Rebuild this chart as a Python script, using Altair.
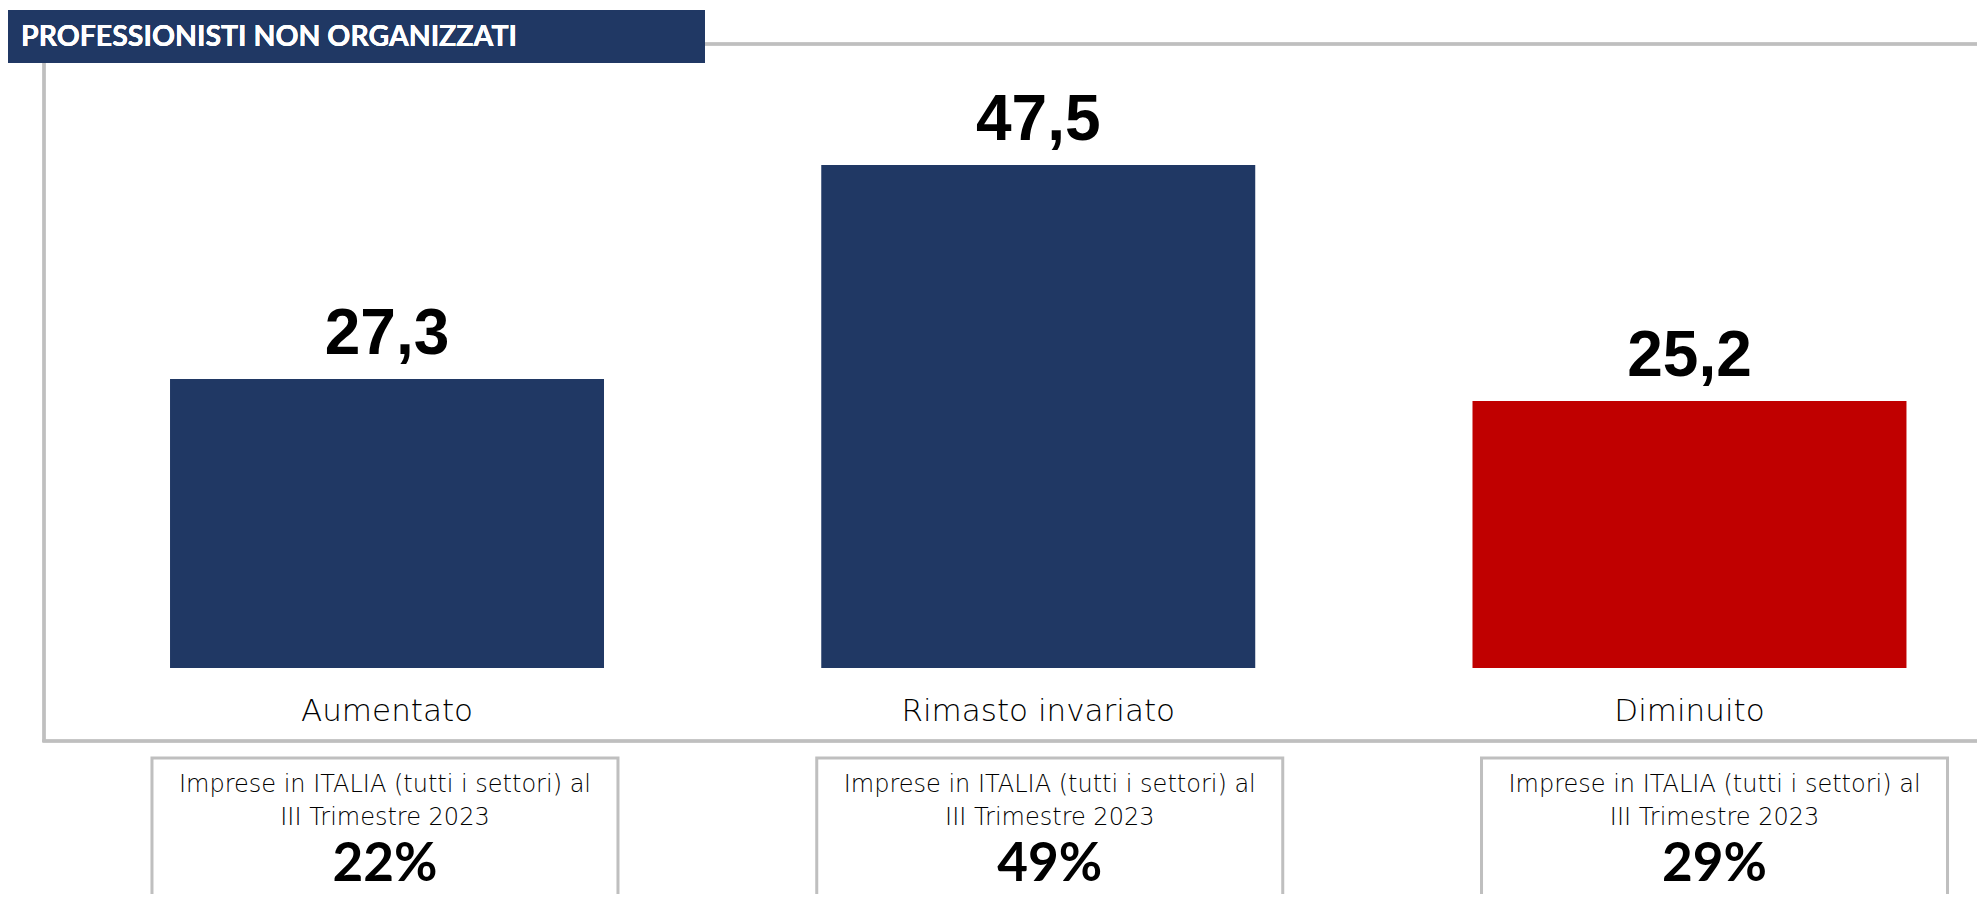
import altair as alt
import pandas as pd

# ---- data ----
categories = ["Aumentato", "Rimasto invariato", "Diminuito"]
values = [27.3, 47.5, 25.2]
value_labels = ["27,3", "47,5", "25,2"]
bar_colors = ["#203864", "#203864", "#C00000"]
italy_pct = ["22%", "49%", "29%"]
box_line1 = ["Imprese in ITALIA (tutti i settori) al"] * 3
box_line2 = ["III Trimestre 2023"] * 3
title_text = "PROFESSIONISTI NON ORGANIZZATI"

df = pd.DataFrame({
    "cat": categories,
    "val": values,
    "lab": value_labels,
    "pct": italy_pct,
    "l1": box_line1,
    "l2": box_line2,
})

W, H = 1969, 886
NAVY = "#203864"
GRAY = "#BFBFBF"
LIGHT_FONT = "DejaVu Sans"

bar_x = alt.X("cat:N", sort=categories, axis=None,
              scale=alt.Scale(domain=categories, range=[53.4, 2007.1],
                              paddingInner=0.3336, paddingOuter=0.1668))
box_x = alt.X("cat:N", sort=categories, axis=None,
              scale=alt.Scale(domain=categories, range=[44.6, 2038.9],
                              paddingInner=0.299, paddingOuter=0.1495))
y_enc = alt.Y("val:Q", axis=None,
              scale=alt.Scale(domain=[0, 62.32], range=[660, 0], nice=False, zero=True))

base = alt.Chart(df)

# decorative frame lines
top_line = base.mark_rule(color=GRAY, strokeWidth=3).encode(
    x=alt.value(697), x2=alt.value(W), y=alt.value(36))
left_line = base.mark_rule(color=GRAY, strokeWidth=3).encode(
    x=alt.value(36), y=alt.value(55), y2=alt.value(734))
bottom_line = base.mark_rule(color=GRAY, strokeWidth=3).encode(
    x=alt.value(34.5), x2=alt.value(W), y=alt.value(733))

title_box = base.mark_rect(color=NAVY).encode(
    x=alt.value(0), x2=alt.value(697), y=alt.value(2), y2=alt.value(55))
title = base.mark_text(align="left", baseline="middle", color="white",
                       font="Lato", fontWeight="bold", fontSize=28.5).encode(
    x=alt.value(13), y=alt.value(29), text=alt.value(title_text))

bars = base.mark_bar().encode(
    x=bar_x, y=y_enc,
    color=alt.Color("cat:N", legend=None,
                    scale=alt.Scale(domain=categories, range=bar_colors)))

val_text = base.mark_text(baseline="alphabetic", dy=-25, font="Liberation Sans",
                          fontWeight="bold", fontSize=64, color="black").encode(
    x=bar_x, y=y_enc, text="lab:N")

cat_text = base.mark_text(baseline="middle", font=LIGHT_FONT, fontWeight=200,
                          fontSize=31, color="black").encode(
    x=bar_x, y=alt.value(704), text="cat:N")

boxes = base.mark_rect(fill="white", stroke=GRAY, strokeWidth=3).encode(
    x=box_x, y=alt.value(750), y2=alt.value(910))

box_t1 = base.mark_text(baseline="middle", font=LIGHT_FONT, fontWeight=200,
                        fontSize=24, color="black").encode(
    x=box_x, y=alt.value(777), text="l1:N")
box_t2 = base.mark_text(baseline="middle", font=LIGHT_FONT, fontWeight=200,
                        fontSize=24, color="black").encode(
    x=box_x, y=alt.value(810), text="l2:N")
box_pct = base.mark_text(baseline="middle", font="Lato", fontWeight="bold",
                         fontSize=53, color="black").encode(
    x=box_x, y=alt.value(857), text="pct:N")

chart = alt.layer(
    top_line, left_line, bottom_line, title_box, title,
    bars, val_text, cat_text, boxes, box_t1, box_t2, box_pct
).resolve_scale(x="independent").properties(
    width=W, height=H, padding=0,
    autosize=alt.AutoSizeParams(type="none"),
).configure(background="white", view=alt.ViewConfig(stroke=None))

chart.save("out.html", embed_options={"renderer": "svg", "actions": False})
